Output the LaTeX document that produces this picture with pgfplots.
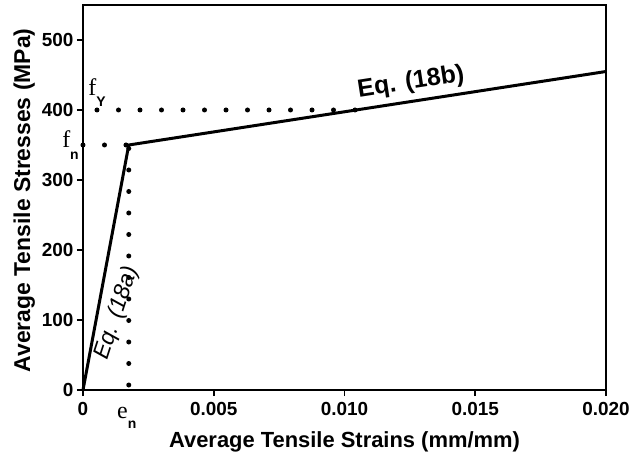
\documentclass[border=0pt]{standalone}
\usepackage{pgfplots}
\pgfplotsset{compat=1.18}
\usepackage{fontspec}
\setmainfont{Liberation Sans}
\newfontfamily\serifletter{Liberation Serif}

\tikzset{dotline/.style={line width=5bp, line cap=round, dash pattern=on 0pt off 21.5bp}}

\begin{document}
\begin{tikzpicture}
\begin{axis}[
  scale only axis,
  width=523bp, height=385bp,
  xmin=0, xmax=0.02, ymin=0, ymax=550,
  axis line style={line width=1.9bp},
  xtick={0,0.005,0.01,0.015,0.02},
  xticklabels={0,0.005,0.010,0.015,0.020},
  scaled x ticks=false,
  ytick={0,100,...,500},
  xtick pos=bottom, ytick pos=left,
  tick align=outside,
  major tick length=6bp,
  every tick/.style={line width=1.9bp, black},
  tick label style={font=\fontsize{19}{19}\selectfont\bfseries},
  xticklabel style={yshift=-3bp},
  /pgf/number format/assume math mode=true,
  xlabel={Average Tensile Strains (mm/mm)},
  ylabel={Average Tensile Stresses (MPa)},
  xlabel style={font=\fontsize{22}{22}\selectfont\bfseries, yshift=-9bp},
  ylabel style={font=\fontsize{23}{23}\selectfont\bfseries, xshift=-3bp},
  clip=false,
]
  \addplot[dotline, dash phase=7.5bp] coordinates {(0,400) (0.01044,400)};
  \addplot[dotline] coordinates {(0,350) (0.00175,350)};
  \addplot[dotline, dash phase=16.5bp] coordinates {(0.00175,0) (0.00175,350)};
  \addplot[black, line width=3bp] coordinates {(0,0) (0.00175,350) (0.02,455)};

  \node[anchor=base west, inner sep=0pt] at (axis cs:0.0002,420)
    {{\serifletter\fontsize{24}{24}\selectfont f}\raisebox{-11bp}{\fontsize{14}{14}\selectfont\bfseries Y}};
  \node[anchor=base west, inner sep=0pt] at (axis cs:-0.0008,347)
    {{\serifletter\fontsize{24}{24}\selectfont f}\raisebox{-12bp}{\fontsize{14}{14}\selectfont\bfseries n}};
  \node[anchor=base west, inner sep=0pt] at (axis cs:0.0013,-40)
    {{\serifletter\fontsize{24}{24}\selectfont e}\raisebox{-10bp}{\fontsize{14}{14}\selectfont\bfseries n}};
  \node[anchor=base, inner sep=0pt, rotate=8.8, font=\fontsize{25}{25}\selectfont\bfseries]
    at (axis cs:0.01258,430) {Eq. (18b)};
  \node[inner sep=0pt, rotate=72, font=\fontsize{23}{23}\selectfont\itshape]
    at (axis cs:0.00131,110) {Eq. (18a)};
\end{axis}
\path (current axis.south west) ++(-83bp,-71bp);
\path (current axis.north east) ++(36bp,5bp);
\end{tikzpicture}
\end{document}
